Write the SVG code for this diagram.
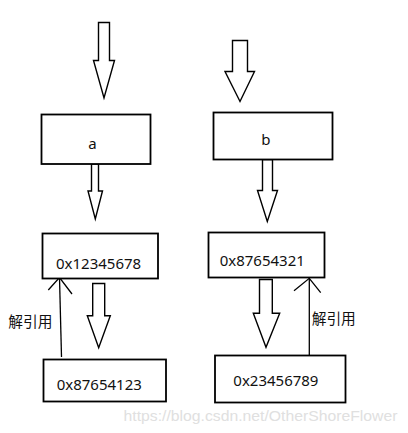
<svg xmlns="http://www.w3.org/2000/svg" width="408" height="433" viewBox="0 0 408 433">
<style>
.box{fill:#fff;stroke:#000;stroke-width:1.8}
.blk{fill:#fff;stroke:#000;stroke-width:1.4;stroke-linejoin:miter}
.ln{fill:none;stroke:#000;stroke-width:1.3}
.t{font-family:"Noto Sans","Noto Sans CJK SC",sans-serif;font-size:15px;fill:#111}
.c{font-family:"Noto Sans CJK SC","Noto Sans",sans-serif;font-size:14.7px;fill:#111}
.wm{font-family:"Liberation Sans",Arial,sans-serif;font-size:15px;fill:#e0e0e0}
</style>
<rect width="408" height="433" fill="#fff"/>
<g id="connectors">
<polygon class="blk" points="98.5,22.5 109.5,22.5 109.5,60.5 114.5,60.5 104,98 93.5,60.5 98.5,60.5"/>
<polygon class="blk" points="232.5,40.5 247.5,40.5 247.5,71.5 254.5,71.5 240,101.5 225,71.5 232.5,71.5"/>
<polygon class="blk" points="91.5,164 98.5,164 98.5,191 102.5,191 95.3,219 88,191 91.5,191"/>
<polygon class="blk" points="262.5,159.5 272.5,159.5 272.5,190.5 277.5,190.5 267.3,221.5 257.5,190.5 262.5,190.5"/>
<polygon class="blk" points="92.7,283.5 104.7,283.5 104.7,315.7 110.3,315.7 98.7,347.7 87.3,315.7 92.7,315.7"/>
<polygon class="blk" points="259.5,279.5 272.3,279.5 272.3,313.3 279.7,313.3 266,347.3 253.3,313.3 259.5,313.3"/>
<line class="ln" x1="61.5" y1="357" x2="59.5" y2="277.5"/>
<polyline class="ln" points="48.3,290 59.5,277.5 72,294"/>
<line class="ln" x1="309.3" y1="355" x2="309.3" y2="278.3"/>
<polyline class="ln" points="294,290.7 309.3,278.3 320.7,292.7"/>
</g>
<g id="node-a">
<rect class="box" x="41.5" y="114.5" width="109" height="49.5"/>
<text class="t" x="88.3" y="149">a</text>
</g>
<g id="node-b">
<rect class="box" x="213.5" y="112.5" width="119" height="47"/>
<text class="t" x="261.3" y="145">b</text>
</g>
<g id="node-addr1">
<rect class="box" x="42.5" y="233.5" width="115.5" height="45"/>
<text class="t" x="56" y="269.3">0x12345678</text>
</g>
<g id="node-addr2">
<rect class="box" x="208.5" y="232.5" width="116" height="45"/>
<text class="t" x="219.7" y="265.7">0x87654321</text>
</g>
<g id="node-addr3">
<rect class="box" x="43.5" y="359.5" width="122.5" height="42"/>
<text class="t" x="56.7" y="390">0x87654123</text>
</g>
<g id="node-addr4">
<rect class="box" x="215" y="355.5" width="130.5" height="47"/>
<text class="t" x="233.3" y="385.7">0x23456789</text>
</g>
<g id="labels">
<text class="c" x="8.3" y="326.5">解引用</text>
<text class="c" x="311.7" y="323.5">解引用</text>
<text class="wm" x="123.5" y="420.5" textLength="274" lengthAdjust="spacingAndGlyphs">https://blog.csdn.net/OtherShoreFlower</text>
</g>
</svg>
